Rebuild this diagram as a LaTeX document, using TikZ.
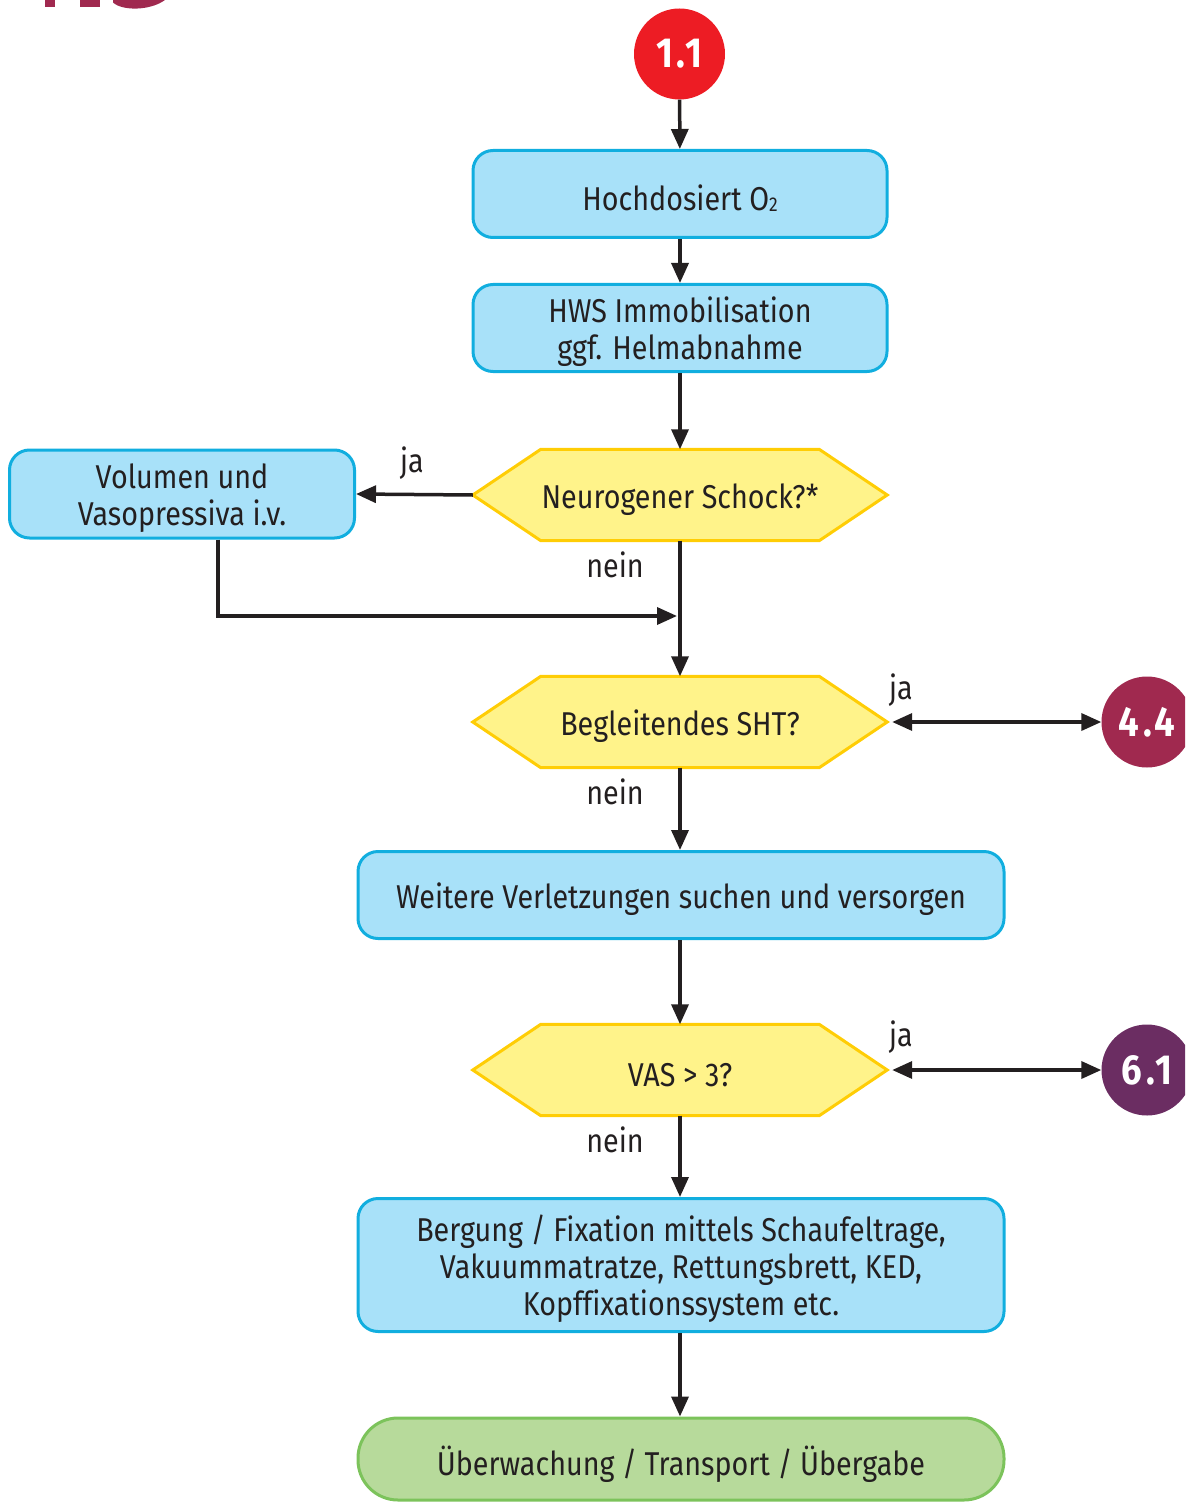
\documentclass[tikz,border=0pt]{standalone}
\usepackage{fontspec}
\setmainfont{Fira Sans}[FakeStretch=0.87, Ligatures=NoCommon]
\usetikzlibrary{arrows.meta,calc,backgrounds}

\definecolor{ink}{HTML}{231F20}
\definecolor{boxfill}{HTML}{A8E1F9}
\definecolor{boxline}{HTML}{11AEDF}
\definecolor{decfill}{HTML}{FFF38A}
\definecolor{decline}{HTML}{FFCD05}
\definecolor{endfill}{HTML}{B7DA9B}
\definecolor{endline}{HTML}{7CC35B}
\definecolor{refred}{HTML}{ED1C24}
\definecolor{refwine}{HTML}{A0294F}
\definecolor{refplum}{HTML}{6B2D62}

% a tall invisible rule on the first line sets every text a little lower
\newcommand{\toprule}[1]{\rule{0pt}{#1}}

\tikzset{
  every node/.style={font=\fontsize{33}{37}\selectfont, text=ink},
  lowered/.style={execute at begin node={\toprule{#1}}},
  lowered/.default=34pt,
  stepbox/.style={draw=boxline, fill=boxfill, line width=3pt,
    rounded corners=20pt, align=center, inner sep=0pt},
  endbox/.style={draw=endline, fill=endfill, line width=3pt,
    rounded corners=40pt, align=center, inner sep=0pt, lowered=40pt},
  decision/.style={minimum width=414pt, minimum height=91pt, inner sep=0pt, lowered},
  hexshape/.style={draw=decline, fill=decfill, line width=3pt},
  link/.style={circle, minimum size=91pt, inner sep=0pt, text=white,
    font=\fontsize{42}{42}\selectfont\bfseries\addfontfeatures{LetterSpace=9}},
  flow/.style={draw=ink, line width=3.5pt, -{Triangle[length=20pt,width=17pt]}},
  both/.style={draw=ink, line width=3.5pt,
    {Triangle[length=20pt,width=17pt]}-{Triangle[length=20pt,width=17pt]}},
  lbl/.style={inner sep=0pt}
}

\begin{document}
\begin{tikzpicture}[x=1pt,y=-1pt]
  \clip (0,0) rectangle (1185,1503);

  % logo fragment at the top edge
  \fill[refwine] (45,0) rectangle (55,7);
  \fill[refwine] (80,0) rectangle (100,7);
  \fill[refwine] (113,0) -- (113,2.5) .. controls (122,11) and (150,11) .. (165,0) -- cycle;

  % entry point
  \node[link, fill=refred] (c11) at (679.5,54) {1.1};

  % process steps
  \node[stepbox, lowered, minimum width=414pt, minimum height=87pt] (b1) at (680,194)
    {Hochdosiert O{\fontsize{20}{20}\selectfont\raisebox{-1pt}{2}}};
  \node[stepbox, minimum width=414pt, minimum height=87pt] (b2) at (680,328)
    {\toprule{34pt}HWS Immobilisation\\ggf. Helmabnahme};
  \node[decision] (q1) at (680,495) {Neurogener Schock?*};
  \node[stepbox, minimum width=345pt, minimum height=88pt] (vol) at (182,494)
    {\toprule{34pt}Volumen und\\Vasopressiva i.v.};
  \node[decision] (q2) at (680,722) {Begleitendes SHT?};
  \node[link, fill=refwine] (c44) at (1147,722) {4.4};
  \node[stepbox, lowered, minimum width=646pt, minimum height=87pt] (b3) at (681,895)
    {Weitere Verletzungen suchen und versorgen};
  \node[decision] (q3) at (680,1070) {VAS > 3?};
  \node[link, fill=refplum] (c61) at (1147,1070) {6.1};
  \node[stepbox, minimum width=646pt, minimum height=133pt] (b4) at (681,1265)
    {\toprule{34pt}Bergung / Fixation mittels Schaufeltrage,\\Vakuummatratze, Rettungsbrett, KED,\\Kopffixationssystem etc.};
  \node[endbox, minimum width=646pt, minimum height=82pt] (b5) at (681,1459)
    {Überwachung / Transport / Übergabe};

  % decision hexagons behind their texts
  \begin{pgfonlayer}{background}
    \foreach \q in {q1,q2,q3}
      \path[hexshape] (\q.west) -- ($(\q.north west)+(68,0)$)
        -- ($(\q.north east)+(-68,0)$) -- (\q.east)
        -- ($(\q.south east)+(-68,0)$) -- ($(\q.south west)+(68,0)$) -- cycle;
  \end{pgfonlayer}

  % branch labels
  \node[lbl] (ja1) at (412,463) {ja};
  \node[lbl] (nein1) at (615,565) {nein};
  \node[lbl] (ja2) at (901,690) {ja};
  \node[lbl] (nein2) at (615,792) {nein};
  \node[lbl] (ja3) at (901,1037) {ja};
  \node[lbl] (nein3) at (615,1140) {nein};

  % connectors
  \coordinate (merge) at (677,616);
  \draw[flow] (c11) -- (b1);
  \draw[flow] (b1) -- (b2);
  \draw[flow] (b2) -- (q1);
  \draw[flow] (q1.west) -- (vol.east);
  \draw[flow] ($(vol.south)+(36,0)$) |- (merge);
  \draw[flow] (q1.south) -- (q2.north);
  \draw[both, shorten <=5pt] (q2.east) -- (c44.west);
  \draw[flow] (q2.south) -- (b3.north -| q2.south);
  \draw[flow] (b3.south -| q3.north) -- (q3.north);
  \draw[both, shorten <=5pt] (q3.east) -- (c61.west);
  \draw[flow] (q3.south) -- (b4.north -| q3.south);
  \draw[flow] (b4.south -| q3.south) -- (b5.north -| q3.south);
\end{tikzpicture}
\end{document}
